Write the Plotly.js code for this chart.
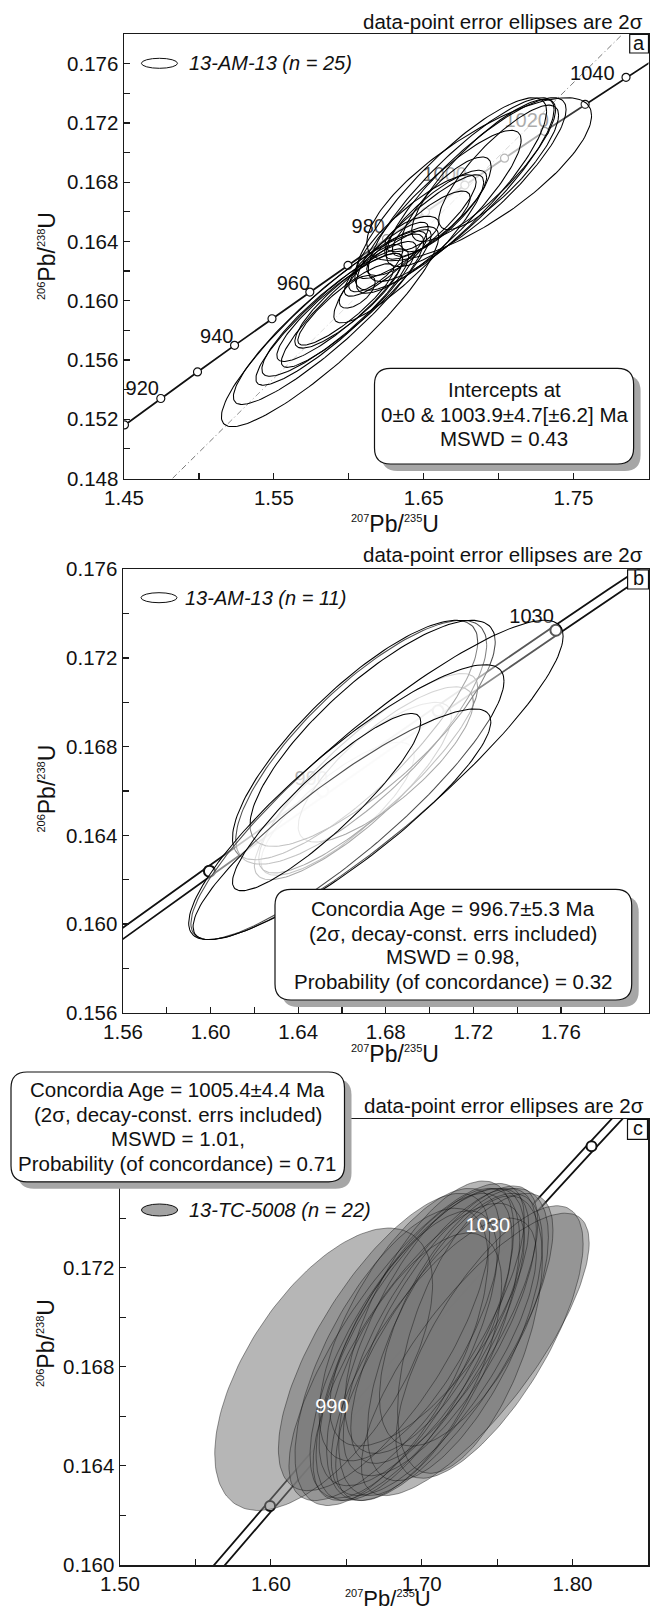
<!DOCTYPE html>
<html><head><meta charset="utf-8">
<script src="https://cdn.plot.ly/plotly-3.0.1.min.js"></script>
<style>html,body{margin:0;padding:0;background:#fff}</style>
</head><body><div id="chart" style="width:666px;height:1613px"></div>
<script>
// ---------- concordia (every 10 Ma) ----------
const concAges = [900,910,920,930,940,950,960,970,980,990,1000,1010,1020,1030,1040,1050,1060,1070];
const concX = [1.42630,1.45031,1.47456,1.49905,1.52378,1.54876,1.57399,1.59947,1.62519,1.65118,1.67741,1.70392,1.73068,1.75771,1.78500,1.81256,1.84037,1.86848];
const concY = [0.149828,0.151613,0.153401,0.155192,0.156985,0.158782,0.160580,0.162382,0.164187,0.165994,0.167804,0.169617,0.171433,0.173252,0.175073,0.176897,0.178724,0.180554];
const bandLoX = [1.42270,1.44671,1.47096,1.49545,1.52018,1.54516,1.57039,1.59587,1.62159,1.64758,1.67381,1.70032,1.72708,1.75411,1.78140,1.80896,1.83677,1.86488];
const bandHiX = [1.42990,1.45391,1.47816,1.50265,1.52738,1.55236,1.57759,1.60307,1.62879,1.65478,1.68101,1.70752,1.73428,1.76131,1.78860,1.81616,1.84397,1.87208];
const markAgesB = [970,990,1010,1030,1050];
const markAgesC = [970,990,1010,1030,1050];

// discordia (panel a): 0 Ma to 1003.9 Ma chord
const discX = [1.4823, 1.7828];
const discY = [0.148, 0.178];

// concordia age labels
const labelATxt = ['920','940','960','980','1000','1020','1040'];
const labelAX = [1.4622,1.5119,1.5630,1.6130,1.6640,1.7187,1.7625];
const labelAY = [0.15396,0.15746,0.16106,0.16489,0.16840,0.17208,0.17521];
const labelBTxt = ['990','1030'];
const labelBX = [1.6460,1.7466];
const labelBY = [0.16650,0.17379];
const labelCTxt = ['990','1030'];
const labelCX = [1.6405,1.7438];
const labelCY = [0.16632,0.17365];

// ---------- error ellipses: centre, half-extent x, half-extent y, correlation ----------
const aX0 = [1.5875,1.5865,1.5915,1.5910,1.5940,1.5980,1.6050,1.6000,1.6056,1.6180,1.6320,1.6250,1.6420,1.6550,1.6450,1.6580,1.6650,1.6680,1.6750,1.6850,1.6870,1.6900,1.6600,1.6400,1.7000];
const aY0 = [0.15825,0.15875,0.15915,0.15920,0.15955,0.15975,0.16015,0.16000,0.16060,0.16220,0.16320,0.16280,0.16450,0.16520,0.16500,0.16580,0.16650,0.16720,0.16750,0.16800,0.16820,0.16880,0.16600,0.16350,0.16900];
const aEx = [0.0725,0.0635,0.0535,0.0490,0.0420,0.0320,0.0500,0.0360,0.0120,0.0180,0.0200,0.0280,0.0180,0.0260,0.0400,0.0340,0.0300,0.0640,0.0620,0.0600,0.0750,0.0480,0.0550,0.0500,0.0400];
const aEy = [0.00675,0.00575,0.00485,0.00430,0.00365,0.00275,0.00465,0.00320,0.00110,0.00160,0.00150,0.00250,0.00120,0.00220,0.00350,0.00300,0.00320,0.00650,0.00620,0.00570,0.00550,0.00480,0.00550,0.00500,0.00420];
const aRho = [0.90,0.91,0.91,0.89,0.89,0.88,0.92,0.86,0.60,0.75,0.70,0.85,0.60,0.80,0.86,0.84,0.80,0.86,0.87,0.86,0.78,0.85,0.88,0.90,0.84];

const bX0 = [1.6580,1.6650,1.6720,1.6800,1.6688,1.6660,1.6740,1.6760,1.6620,1.6600,1.6530];
const bY0 = [0.16520,0.16600,0.16680,0.16720,0.16820,0.16830,0.16860,0.16650,0.16550,0.16450,0.16550];
const bEx = [0.0350,0.0450,0.0500,0.0400,0.0573,0.0560,0.0560,0.0850,0.0720,0.0680,0.0430];
const bEy = [0.00300,0.00400,0.00450,0.00350,0.00550,0.00540,0.00510,0.00720,0.00620,0.00520,0.00400];
const bRho = [0.80,0.84,0.86,0.80,0.80,0.82,0.81,0.90,0.88,0.89,0.90];

const cX0 = [1.6350,1.7355,1.7450,1.7000,1.6950,1.7050,1.6980,1.7120,1.6880,1.7150,1.6800,1.7220,1.7050,1.6950,1.7080,1.7050,1.6920,1.7280,1.6750,1.7320,1.6900,1.7150];
const cY0 = [0.16790,0.16850,0.16900,0.16920,0.16880,0.16900,0.16860,0.16940,0.16850,0.16970,0.16840,0.16920,0.17000,0.16800,0.16840,0.17000,0.16970,0.17000,0.16900,0.16930,0.16900,0.16880];
const cEx = [0.0722,0.0755,0.0620,0.0680,0.0650,0.0600,0.0700,0.0640,0.0620,0.0620,0.0640,0.0580,0.0560,0.0580,0.0680,0.0660,0.0600,0.0560,0.0700,0.0480,0.0780,0.0720];
const cEy = [0.00570,0.00570,0.00550,0.00600,0.00620,0.00620,0.00600,0.00580,0.00580,0.00560,0.00600,0.00580,0.00550,0.00540,0.00560,0.00520,0.00550,0.00520,0.00600,0.00560,0.00640,0.00620];
const cRho = [0.60,0.79,0.72,0.72,0.70,0.66,0.75,0.72,0.70,0.74,0.66,0.66,0.64,0.62,0.74,0.70,0.66,0.62,0.72,0.55,0.78,0.76];

// ---------- helpers ----------
const W = 666, H = 1613;
const FONT = 'Liberation Sans, Arial, sans-serif';
const PX = p => p / W;
const PY = p => 1 - p / H;

function ellipse(x0, y0, ex, ey, rho) {
  const xs = [], ys = [], n = 160, s = Math.sqrt(1 - rho * rho);
  for (let i = 0; i <= n; i++) {
    const t = 2 * Math.PI * i / n;
    xs.push(x0 + ex * Math.cos(t));
    ys.push(y0 + ey * (rho * Math.cos(t) + s * Math.sin(t)));
  }
  return {x: xs, y: ys};
}
function pick(ages) {
  const x = [], y = [];
  ages.forEach(a => { const i = concAges.indexOf(a); x.push(concX[i]); y.push(concY[i]); });
  return {x, y};
}

const traces = [];
function add(t) { t.hoverinfo = 'skip'; t.showlegend = false; traces.push(t); }

// ===== Panel a =====
add({x: discX, y: discY, xaxis: 'x', yaxis: 'y', mode: 'lines', line: {color: '#555', width: 0.8, dash: '6px,3px,1px,3px'}});
add({x: concX, y: concY, xaxis: 'x', yaxis: 'y', mode: 'lines+markers', line: {color: '#111', width: 1.8},
     marker: {symbol: 'circle', size: 8, color: '#fff', line: {color: '#111', width: 1.2}}});
add({x: labelAX, y: labelAY, text: labelATxt, xaxis: 'x', yaxis: 'y', mode: 'text', textfont: {family: FONT, size: 20, color: '#111'}});
for (let i = 0; i < aX0.length; i++) {
  const e = ellipse(aX0[i], aY0[i], aEx[i], aEy[i], aRho[i]);
  add({x: e.x, y: e.y, xaxis: 'x', yaxis: 'y', mode: 'lines', fill: 'toself', fillcolor: 'rgba(255,255,255,0.16)', line: {width: 0}});
}
for (let i = 0; i < aX0.length; i++) {
  const e = ellipse(aX0[i], aY0[i], aEx[i], aEy[i], aRho[i]);
  add({x: e.x, y: e.y, xaxis: 'x', yaxis: 'y', mode: 'lines', line: {color: '#000', width: 1.05}});
}

// ===== Panel b =====
add({x: bandLoX, y: concY, xaxis: 'x2', yaxis: 'y2', mode: 'lines', line: {color: '#111', width: 1.8}});
add({x: bandHiX, y: concY, xaxis: 'x2', yaxis: 'y2', mode: 'lines', line: {color: '#111', width: 1.8}});
const mb = pick(markAgesB);
add({x: mb.x, y: mb.y, xaxis: 'x2', yaxis: 'y2', mode: 'markers',
     marker: {symbol: 'circle', size: 11, color: '#fff', line: {color: '#111', width: 2}}});
add({x: labelBX, y: labelBY, text: labelBTxt, xaxis: 'x2', yaxis: 'y2', mode: 'text', textfont: {family: FONT, size: 20, color: '#111'}});
for (let i = 0; i < bX0.length; i++) {
  const e = ellipse(bX0[i], bY0[i], bEx[i], bEy[i], bRho[i]);
  add({x: e.x, y: e.y, xaxis: 'x2', yaxis: 'y2', mode: 'lines', fill: 'toself', fillcolor: 'rgba(255,255,255,0.30)', line: {color: '#000', width: 1.05}});
}

// ===== Panel c =====
add({x: bandLoX, y: concY, xaxis: 'x3', yaxis: 'y3', mode: 'lines', line: {color: '#111', width: 1.8}});
add({x: bandHiX, y: concY, xaxis: 'x3', yaxis: 'y3', mode: 'lines', line: {color: '#111', width: 1.8}});
const mc = pick(markAgesC);
add({x: mc.x, y: mc.y, xaxis: 'x3', yaxis: 'y3', mode: 'markers',
     marker: {symbol: 'circle', size: 10, color: '#fff', line: {color: '#111', width: 2}}});
for (let i = 0; i < cX0.length; i++) {
  const e = ellipse(cX0[i], cY0[i], cEx[i], cEy[i], cRho[i]);
  add({x: e.x, y: e.y, xaxis: 'x3', yaxis: 'y3', mode: 'lines', fill: 'toself', fillcolor: 'rgba(122,122,122,0.55)', line: {width: 0}});
}
for (let i = 0; i < cX0.length; i++) {
  const e = ellipse(cX0[i], cY0[i], cEx[i], cEy[i], cRho[i]);
  add({x: e.x, y: e.y, xaxis: 'x3', yaxis: 'y3', mode: 'lines', line: {color: 'rgba(10,10,10,0.55)', width: 0.75}});
}
add({x: labelCX, y: labelCY, text: labelCTxt, xaxis: 'x3', yaxis: 'y3', mode: 'text', textfont: {family: FONT, size: 20, color: '#fff'}});

// ---------- axes ----------
function axis(domain, range, tick0, dtick, mtick0, mdtick, fmt, anchor) {
  return {
    domain, range, anchor, tick0, dtick, tickmode: 'linear', tickformat: fmt,
    showline: true, linecolor: '#1a1a1a', linewidth: 1.5, mirror: true,
    ticks: 'inside', ticklen: 6, tickwidth: 1.2, tickcolor: '#1a1a1a',
    minor: {ticks: 'inside', ticklen: 6, tickwidth: 1.2, tickcolor: '#1a1a1a', tickmode: 'linear', tick0: mtick0, dtick: mdtick, showgrid: false},
    showgrid: false, zeroline: false, automargin: false, fixedrange: true,
    tickfont: {family: FONT, size: 20.5, color: '#111'}
  };
}
const layout = {
  width: W, height: H, margin: {l: 0, r: 0, t: 0, b: 0},
  paper_bgcolor: '#fff', plot_bgcolor: '#fff', showlegend: false,
  font: {family: FONT, color: '#111'},
  xaxis:  axis([PX(124), PX(648.5)], [1.45, 1.80], 1.45, 0.1, 1.50, 0.1, '.2f', 'y'),
  yaxis:  axis([PY(478.5), PY(34)], [0.148, 0.178], 0.148, 0.004, 0.150, 0.004, '.3f', 'x'),
  xaxis2: axis([PX(123), PX(648.5)], [1.56, 1.80], 1.56, 0.04, 1.58, 0.04, '.2f', 'y2'),
  yaxis2: axis([PY(1012.7), PY(569.3)], [0.156, 0.176], 0.156, 0.004, 0.158, 0.004, '.3f', 'x2'),
  xaxis3: axis([PX(120), PX(648)], [1.50, 1.85], 1.50, 0.1, 1.55, 0.1, '.2f', 'y3'),
  yaxis3: axis([PY(1565), PY(1119)], [0.160, 0.178], 0.160, 0.004, 0.162, 0.004, '.3f', 'x3'),
  shapes: [], annotations: []
};

function rrPath(x0, y0, x1, y1, r) {
  const X = PX, Y = PY;
  return `M ${X(x0+r)},${Y(y0)} L ${X(x1-r)},${Y(y0)} Q ${X(x1)},${Y(y0)} ${X(x1)},${Y(y0+r)} ` +
         `L ${X(x1)},${Y(y1-r)} Q ${X(x1)},${Y(y1)} ${X(x1-r)},${Y(y1)} L ${X(x0+r)},${Y(y1)} ` +
         `Q ${X(x0)},${Y(y1)} ${X(x0)},${Y(y1-r)} L ${X(x0)},${Y(y0+r)} Q ${X(x0)},${Y(y0)} ${X(x0+r)},${Y(y0)} Z`;
}
function ann(text, px, py, opts) {
  layout.annotations.push(Object.assign({
    text, x: PX(px), y: PY(py), xref: 'paper', yref: 'paper', showarrow: false,
    xanchor: 'center', yanchor: 'middle', font: {family: FONT, size: 20.5, color: '#111'}
  }, opts || {}));
}
function resultBox(x0, y0, x1, y1, lines, lineYs) {
  layout.shapes.push({type: 'path', xref: 'paper', yref: 'paper', layer: 'above', path: rrPath(x0 + 7, y0 + 7, x1 + 7, y1 + 7, 16), fillcolor: '#a6a6a6', line: {width: 0}});
  layout.shapes.push({type: 'path', xref: 'paper', yref: 'paper', layer: 'above', path: rrPath(x0, y0, x1, y1, 16), fillcolor: '#fff', line: {color: '#111', width: 1.2}});
  lines.forEach((t, i) => ann(t, (x0 + x1) / 2, lineYs[i]));
}
function letterBox(x0, y0, x1, y1, letter) {
  layout.shapes.push({type: 'rect', xref: 'paper', yref: 'paper', layer: 'above', x0: PX(x0), x1: PX(x1), y0: PY(y1), y1: PY(y0), fillcolor: '#fff', line: {color: '#111', width: 1.2}});
  ann(letter, (x0 + x1) / 2, (y0 + y1) / 2 - 1, {font: {family: FONT, size: 20, color: '#111'}});
}
function legend(x0, y0, x1, y1, fill, text, tx) {
  layout.shapes.push({type: 'circle', xref: 'paper', yref: 'paper', layer: 'above', x0: PX(x0), x1: PX(x1), y0: PY(y1), y1: PY(y0), fillcolor: fill, line: {color: '#111', width: 1}});
  ann('<i>' + text + '</i>', tx, (y0 + y1) / 2, {xanchor: 'left', font: {family: FONT, size: 20, color: '#111'}});
}
const xTitle = '<sup><span style="font-size:11px">207</span></sup>Pb/<sup><span style="font-size:11px">235</span></sup>U';
const yTitle = '<sup><span style="font-size:11px">206</span></sup>Pb/<sup><span style="font-size:11px">238</span></sup>U';
const note = 'data-point error ellipses are 2σ';

// panel a decorations
ann(note, 645, 21.7, {xanchor: 'right'});
letterBox(629.7, 34.5, 648.5, 53, 'a');
legend(141.4, 58.3, 177.5, 68.3, 'rgba(255,255,255,0)', '13-AM-13 (n = 25)', 186.8);
resultBox(374.5, 368.3, 633.6, 464, ['Intercepts at', '0±0 &amp; 1003.9±4.7[±6.2] Ma', 'MSWD = 0.43'], [390, 415, 438.5]);
ann(xTitle, 395, 524, {font: {family: FONT, size: 23, color: '#111'}});
ann(yTitle, 47, 256, {textangle: -90, font: {family: FONT, size: 23, color: '#111'}});

// panel b decorations
ann(note, 645, 555, {xanchor: 'right'});
letterBox(627.6, 569.8, 648.5, 589, 'b');
legend(141, 592.7, 177, 602.7, 'rgba(255,255,255,0)', '13-AM-13 (n = 11)', 182.6);
resultBox(275, 889.3, 631.7, 1000, ['Concordia Age = 996.7±5.3 Ma', '(2σ, decay-const. errs included)', 'MSWD = 0.98,', 'Probability (of concordance) = 0.32'], [908.3, 933.3, 956.7, 981.7]);
ann(xTitle, 395, 1054, {font: {family: FONT, size: 23, color: '#111'}});
ann(yTitle, 46.6, 789, {textangle: -90, font: {family: FONT, size: 23, color: '#111'}});

// panel c decorations
ann(note, 646, 1105.8, {xanchor: 'right'});
letterBox(627.5, 1119.5, 647.5, 1139.4, 'c');
legend(141.4, 1204, 177.7, 1216, '#a3a3a3', '13-TC-5008 (n = 22)', 187);
resultBox(11, 1072, 344.5, 1181.8, ['Concordia Age = 1005.4±4.4 Ma', '(2σ, decay-const. errs included)', 'MSWD = 1.01,', 'Probability (of concordance) = 0.71'], [1089.3, 1114.2, 1138.7, 1163.5]);
ann(xTitle, 388, 1612.5, {yanchor: 'bottom', font: {family: FONT, size: 22, color: '#111'}});
ann(yTitle, 46, 1343, {textangle: -90, font: {family: FONT, size: 23, color: '#111'}});

Plotly.newPlot('chart', traces, layout, {displayModeBar: false, staticPlot: true});
</script>
</body></html>
